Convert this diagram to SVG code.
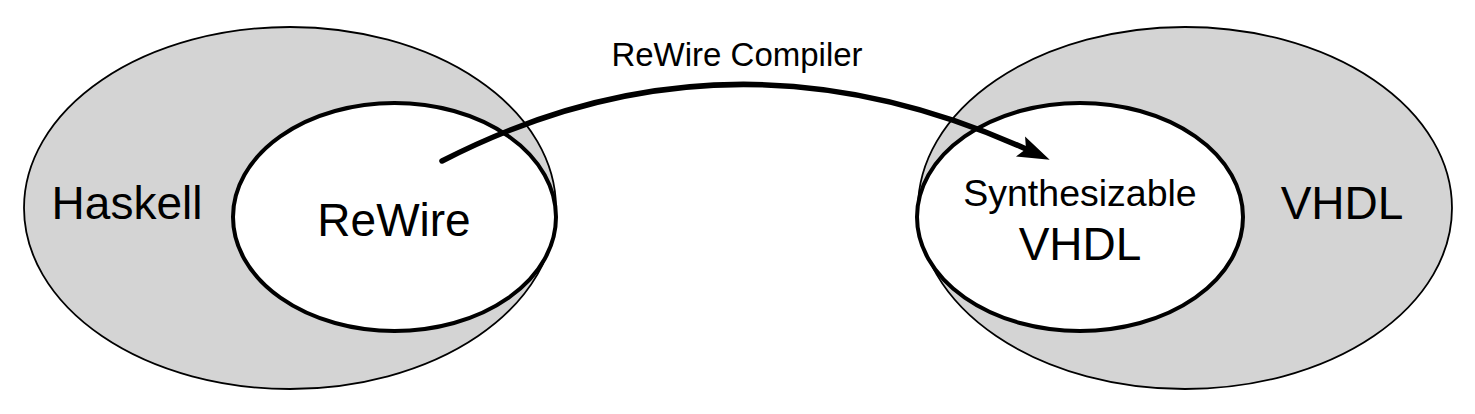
<svg xmlns="http://www.w3.org/2000/svg" width="1475" height="414" viewBox="0 0 1475 414">
<style>
.outer{fill:#d4d4d4;stroke:#000;stroke-width:1.8}
.inner{fill:#fff;stroke:#000;stroke-width:4}
.lbl{font-family:"Liberation Sans",Arial,sans-serif;fill:#000;text-anchor:middle}
.big{font-size:46px}
.conn{fill:none;stroke:#000;stroke-width:5.5;stroke-linecap:round}
</style>
<defs>
<marker id="arrow" viewBox="-34 -12 36 24" refX="-26" refY="0" markerWidth="36" markerHeight="24" markerUnits="userSpaceOnUse" orient="auto">
<path d="M0,0 L-32,-11 L-26,0 L-32,11 Z" fill="#000"/>
</marker>
</defs>
<g id="haskell">
<ellipse class="outer" cx="290" cy="208" rx="266" ry="181"/>
<text class="lbl big" x="127" y="219">Haskell</text>
</g>
<g id="rewire">
<ellipse class="inner" cx="394.5" cy="217" rx="161.5" ry="114"/>
<text class="lbl big" x="394" y="236">ReWire</text>
</g>
<g id="vhdl">
<ellipse class="outer" cx="1185" cy="208" rx="267" ry="181"/>
<text class="lbl big" x="1342" y="219">VHDL</text>
</g>
<g id="synth-vhdl">
<ellipse class="inner" cx="1080" cy="217" rx="163" ry="114"/>
<text class="lbl" style="font-size:37.5px" x="1080" y="206">Synthesizable</text>
<text class="lbl big" x="1080" y="260">VHDL</text>
</g>
<g id="connectors">
<path class="conn" d="M442,161 Q728,14 1026,149" marker-end="url(#arrow)"/>
<text class="lbl" style="font-size:33px" x="737" y="66">ReWire Compiler</text>
</g>
</svg>
